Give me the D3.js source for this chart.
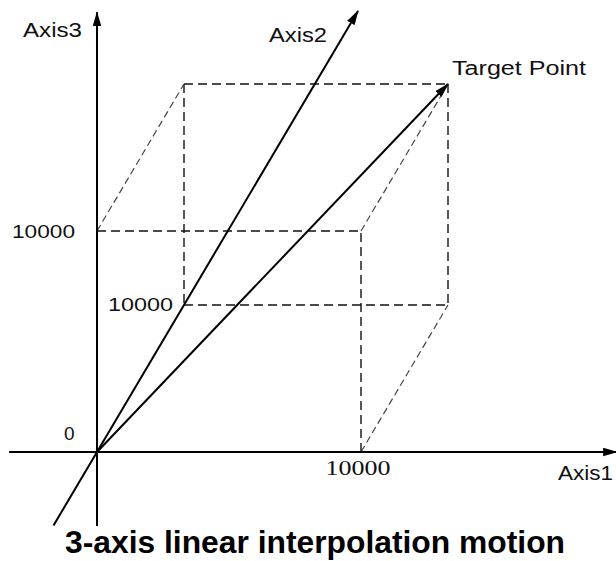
<!DOCTYPE html>
<html>
<head>
<meta charset="utf-8">
<script src="https://cdn.jsdelivr.net/npm/d3@7"></script>
<style>
  body { margin: 0; background: #fff; }
  svg { display: block; }
</style>
</head>
<body>
<svg width="616" height="561"></svg>
<script>
// axis names and the extent of each drawn axis (data units)
const axisNames = ['Axis1', 'Axis2', 'Axis3']
const axis1Extent = [-3330, 19700]
const axis2Extent = [-5000, 30000]
const axis3Extent = [-3350, 19900]

// target point of the interpolation
const target = [10000, 10000, 10000]

// tick values and labels shown on each axis
const tickValues = [0, 10000]
const tickLabels = ['0', '10000']

const title = '3-axis linear interpolation motion'

// oblique projection: axis1 goes right, axis3 goes up, axis2 goes up-right
const x1 = d3.scaleLinear().domain([0, 10000]).range([97, 361])
const y3 = d3.scaleLinear().domain([0, 10000]).range([452, 231])
const dx2 = d3.scaleLinear().domain([0, 10000]).range([0, 87])
const dy2 = d3.scaleLinear().domain([0, 10000]).range([0, -147])

function project(p) {
  return [x1(p[0]) + dx2(p[1]), y3(p[2]) + dy2(p[1])]
}

const svg = d3.select('svg')

svg.append('defs')
  .append('marker')
  .attr('id', 'arrow')
  .attr('viewBox', '0 0 14 8')
  .attr('refX', 13)
  .attr('refY', 4)
  .attr('markerWidth', 15)
  .attr('markerHeight', 9)
  .attr('markerUnits', 'userSpaceOnUse')
  .attr('orient', 'auto')
  .append('path')
  .attr('d', 'M0,0 L14,4 L0,8 Z')
  .attr('fill', '#000')

// box corners
const t = target
const corners = {
  o: [0, 0, 0], a: [t[0], 0, 0], c: [0, 0, t[2]], ac: [t[0], 0, t[2]],
  b: [0, t[1], 0], ab: [t[0], t[1], 0], bc: [0, t[1], t[2]], abc: t
}
// straight dashed edges of the box
const edges = [
  ['c', 'ac'], ['a', 'ac'],
  ['bc', 'abc'], ['bc', 'b'], ['b', 'ab'], ['abc', 'ab']
]
// depth edges, drawn lighter
const depthEdges = [['c', 'bc'], ['ac', 'abc'], ['a', 'ab']]

const line = d3.line()

svg.append('g')
  .selectAll('path')
  .data(edges)
  .join('path')
  .attr('d', e => line([project(corners[e[0]]), project(corners[e[1]])]))
  .attr('fill', 'none')
  .attr('stroke', '#111')
  .attr('stroke-width', 1.4)
  .attr('stroke-dasharray', '9,5')

svg.append('g')
  .selectAll('path')
  .data(depthEdges)
  .join('path')
  .attr('d', e => line([project(corners[e[0]]), project(corners[e[1]])]))
  .attr('fill', 'none')
  .attr('stroke', '#444')
  .attr('stroke-width', 1.2)
  .attr('stroke-dasharray', '7,4')

// the three axes
const axes = [
  [[axis1Extent[0], 0, 0], [axis1Extent[1], 0, 0]],
  [[0, axis2Extent[0], 0], [0, axis2Extent[1], 0]],
  [[0, 0, axis3Extent[0]], [0, 0, axis3Extent[1]]]
]
svg.append('g')
  .selectAll('path')
  .data(axes)
  .join('path')
  .attr('d', a => line(a.map(project)))
  .attr('stroke', '#000')
  .attr('stroke-width', 2)
  .attr('marker-end', 'url(#arrow)')

// interpolation vector
svg.append('path')
  .attr('d', line([project(corners.o), project(target)]))
  .attr('stroke', '#000')
  .attr('stroke-width', 2)
  .attr('marker-end', 'url(#arrow)')

const sans = 'Arial, "Liberation Sans", sans-serif'

// axis names
const nameLabels = [
  { text: axisNames[2], x: 23, y: 37, len: 59 },
  { text: axisNames[1], x: 269, y: 42, len: 58 },
  { text: axisNames[0], x: 558, y: 480, len: 55 },
  { text: 'Target Point', x: 452, y: 75, len: 134 }
]
svg.append('g')
  .selectAll('text')
  .data(nameLabels)
  .join('text')
  .attr('x', d => d.x)
  .attr('y', d => d.y)
  .attr('textLength', d => d.len)
  .attr('lengthAdjust', 'spacingAndGlyphs')
  .attr('font-family', sans)
  .attr('font-size', 20)
  .attr('fill', '#111')
  .text(d => d.text)

// tick labels
const p3 = project([0, 0, tickValues[1]])
const p2 = project([0, tickValues[1], 0])
const p1 = project([tickValues[1], 0, 0])
const p0 = project([0, 0, tickValues[0]])

svg.append('text')
  .attr('x', p0[0] - 33).attr('y', p0[1] - 12)
  .attr('font-family', sans).attr('font-size', 19).attr('fill', '#111')
  .text(tickLabels[0])

svg.append('text')
  .attr('x', p3[0] - 85).attr('y', p3[1] + 7)
  .attr('textLength', 63).attr('lengthAdjust', 'spacingAndGlyphs')
  .attr('font-family', sans).attr('font-size', 19).attr('fill', '#111')
  .text(tickLabels[1])

svg.append('text')
  .attr('x', p2[0] - 76).attr('y', p2[1] + 6)
  .attr('textLength', 65).attr('lengthAdjust', 'spacingAndGlyphs')
  .attr('font-family', sans).attr('font-size', 19).attr('fill', '#111')
  .text(tickLabels[1])

svg.append('text')
  .attr('x', p1[0] - 3).attr('y', p1[1] + 23)
  .attr('text-anchor', 'middle')
  .attr('textLength', 65).attr('lengthAdjust', 'spacingAndGlyphs')
  .attr('font-family', '"Liberation Serif", "Times New Roman", serif')
  .attr('font-size', 21).attr('fill', '#111')
  .text(tickLabels[1])

// title
svg.append('text')
  .attr('x', 315)
  .attr('y', 553)
  .attr('text-anchor', 'middle')
  .attr('textLength', 500)
  .attr('lengthAdjust', 'spacingAndGlyphs')
  .attr('font-family', sans)
  .attr('font-weight', 'bold')
  .attr('font-size', 31)
  .attr('fill', '#000')
  .text(title)
</script>
</body>
</html>
